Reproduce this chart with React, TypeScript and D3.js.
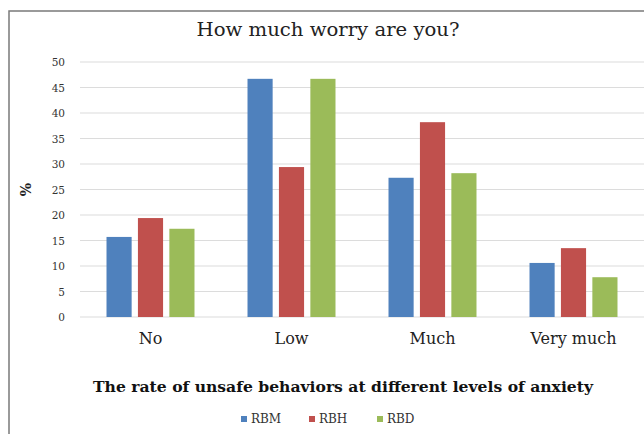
import React from "react";
import * as d3 from "d3";

const categories = ["No", "Low", "Much", "Very much"];
const seriesNames = ["RBM", "RBH", "RBD"];
const RBM = [15.7, 46.7, 27.3, 10.6];
const RBH = [19.4, 29.4, 38.2, 13.5];
const RBD = [17.3, 46.7, 28.2, 7.8];
const seriesValues = [RBM, RBH, RBD];
const yTicks = [0, 5, 10, 15, 20, 25, 30, 35, 40, 45, 50];
const colors = ["#4F81BD", "#C0504D", "#9BBB59"];

const W = 644;
const H = 434;
const plot = { left: 80, right: 644, top: 62, bottom: 317 };

export default function App() {
  const x0 = d3
    .scaleBand<string>()
    .domain(categories)
    .range([plot.left, plot.right])
    .paddingInner(0.376)
    .paddingOuter(0.188);
  const x1 = d3
    .scaleBand<string>()
    .domain(seriesNames)
    .range([0, x0.bandwidth()])
    .paddingInner(0.2);
  const y = d3.scaleLinear().domain([0, 50]).range([plot.bottom, plot.top]);
  const serif = "'DejaVu Serif', 'Liberation Serif', serif";

  return (
    <svg
      width={W}
      height={H}
      style={{ position: "absolute", left: 0, top: 0, background: "#fff" }}
      fontFamily={serif}
    >
      <rect x={0} y={0} width={W} height={H} fill="#fff" />
      <rect x={9} y={11} width={W + 20} height={H + 20} fill="#fff" stroke="#7a7a7a" strokeWidth={1.5} />
      <text
        x={328}
        y={36}
        textAnchor="middle"
        fontSize={19}
        fill="#222"
        textLength={263}
        lengthAdjust="spacingAndGlyphs"
      >
        How much worry are you?
      </text>
      {yTicks.map((t) => (
        <g key={t}>
          <line x1={plot.left} x2={plot.right} y1={y(t)} y2={y(t)} stroke="#dcdcdc" strokeWidth={1.2} />
          <text x={65} y={y(t) + 4} textAnchor="end" fontSize={10.5} fill="#333">
            {t}
          </text>
        </g>
      ))}
      <text
        transform={`translate(31,${y(25)}) rotate(-90)`}
        textAnchor="middle"
        fontSize={14}
        fontWeight="bold"
        fill="#222"
      >
        %
      </text>
      {categories.map((c, i) => (
        <g key={c}>
          {seriesNames.map((s, j) => {
            const v = seriesValues[j][i];
            return (
              <rect
                key={s}
                x={(x0(c) ?? 0) + (x1(s) ?? 0)}
                y={y(v)}
                width={x1.bandwidth()}
                height={y(0) - y(v)}
                fill={colors[j]}
              />
            );
          })}
          <text
            x={(x0(c) ?? 0) + x0.bandwidth() / 2}
            y={344}
            textAnchor="middle"
            fontSize={16}
            fill="#222"
          >
            {c}
          </text>
        </g>
      ))}
      <text
        x={343}
        y={392}
        textAnchor="middle"
        fontSize={14}
        fontWeight="bold"
        fill="#111"
        textLength={500}
        lengthAdjust="spacingAndGlyphs"
      >
        The rate of unsafe behaviors at different levels of anxiety
      </text>
      {seriesNames.map((s, j) => {
        const lx = 241 + j * 68;
        return (
          <g key={s}>
            <rect x={lx} y={416} width={6} height={6} fill={colors[j]} />
            <text x={lx + 10} y={423} fontSize={12} fill="#333">
              {s}
            </text>
          </g>
        );
      })}
    </svg>
  );
}
